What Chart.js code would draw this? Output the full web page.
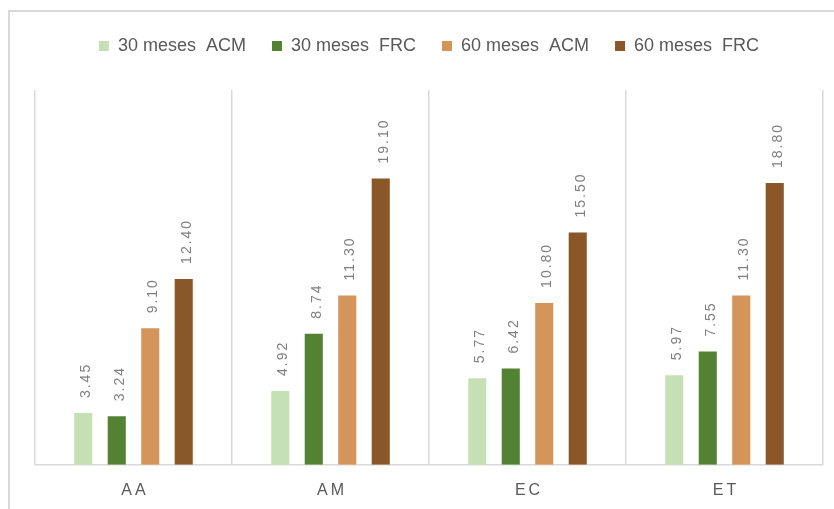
<!DOCTYPE html>
<html>
<head>
<meta charset="utf-8">
<script src="https://cdn.jsdelivr.net/npm/chart.js@4"></script>
<style>
  html, body { margin: 0; padding: 0; background: #ffffff; overflow: hidden; }
  #frame {
    position: absolute; left: 8px; top: 10px; width: 900px; height: 600px;
    border-left: 2px solid #d9d9d9; border-top: 2px solid #d9d9d9;
  }
  #wrap { position: absolute; left: 0; top: 0; width: 834px; height: 509px; }
  canvas { display: block; }
</style>
</head>
<body>
<div id="frame"></div>
<div id="wrap"><canvas id="chart" width="834" height="509"></canvas></div>
<script>
// Categories and series
const categories = ['AA', 'AM', 'EC', 'ET'];
const seriesNames = ['30 meses  ACM', '30 meses  FRC', '60 meses  ACM', '60 meses  FRC'];
const acm30 = [3.45, 4.92, 5.77, 5.97];
const frc30 = [3.24, 8.74, 6.42, 7.55];
const acm60 = [9.10, 11.30, 10.80, 11.30];
const frc60 = [12.40, 19.10, 15.50, 18.80];
const seriesColors = ['#c5e0b4', '#548235', '#d4955b', '#8a5728'];

const FONT = "'Liberation Sans', Arial, sans-serif";

// Vertical value labels above each bar
const barValueLabels = {
  id: 'barValueLabels',
  afterDatasetsDraw(chart) {
    const ctx = chart.ctx;
    chart.data.datasets.forEach((ds, i) => {
      const meta = chart.getDatasetMeta(i);
      meta.data.forEach((bar, j) => {
        ctx.save();
        ctx.translate(bar.x + 7, bar.y - 15);
        ctx.rotate(-Math.PI / 2);
        ctx.font = '14px ' + FONT;
        ctx.fillStyle = '#7f7f7f';
        ctx.textAlign = 'left';
        ctx.textBaseline = 'alphabetic';
        ctx.letterSpacing = '2px';
        ctx.fillText(Number(ds.data[j]).toFixed(2), 0, 0);
        ctx.restore();
      });
    });
  }
};

// Wider letter spacing for the category labels
const spacedCategoryLabels = {
  id: 'spacedCategoryLabels',
  beforeDraw(chart) {
    const sx = chart.scales.x;
    if (!sx || sx._spaced) return;
    const orig = sx.drawLabels;
    sx.drawLabels = function (area) {
      const ctx = this.ctx;
      ctx.save();
      ctx.letterSpacing = '3px';
      ctx.translate(1.5, 0);
      orig.call(this, area);
      ctx.restore();
    };
    sx._spaced = true;
  }
};

// Extra space between the legend and the plot
const legendGap = {
  id: 'legendGap',
  beforeInit(chart) {
    const legend = chart.legend;
    if (!legend) return;
    const fit = legend.fit;
    legend.fit = function () {
      fit.call(this);
      this.height += 25;
    };
  }
};

const datasets = [acm30, frc30, acm60, frc60].map((values, i) => ({
  label: seriesNames[i],
  data: values,
  backgroundColor: seriesColors[i],
  borderWidth: 0,
  barPercentage: 0.54,
  categoryPercentage: 0.68
}));

new Chart(document.getElementById('chart'), {
  type: 'bar',
  data: { labels: categories, datasets },
  options: {
    responsive: false,
    animation: false,
    layout: { padding: { left: 35, right: 11, top: 11, bottom: -7 } },
    plugins: {
      tooltip: { enabled: false },
      legend: {
        position: 'top',
        labels: {
          boxWidth: 10,
          boxHeight: 10,
          padding: 26,
          color: '#595959',
          font: { family: FONT, size: 18 }
        }
      }
    },
    scales: {
      x: {
        grid: {
          offset: true,
          color: '#d9d9d9',
          lineWidth: 1.5,
          drawTicks: false
        },
        border: { display: true, color: '#d9d9d9', width: 1.5 },
        ticks: {
          color: '#595959',
          padding: 16,
          font: { family: FONT, size: 16 }
        }
      },
      y: {
        display: false,
        min: 0,
        max: 25
      }
    }
  },
  plugins: [barValueLabels, spacedCategoryLabels, legendGap]
});
</script>
</body>
</html>
